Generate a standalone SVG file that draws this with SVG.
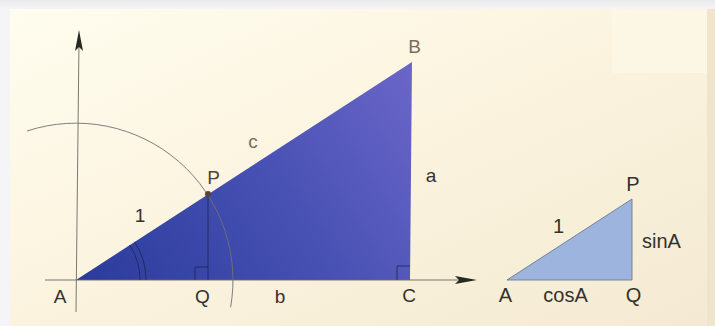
<svg xmlns="http://www.w3.org/2000/svg" width="715" height="326" viewBox="0 0 715 326">
<defs>
<linearGradient id="page" x1="0" y1="0" x2="1" y2="1">
<stop offset="0" stop-color="#fffdef"/>
<stop offset="0.5" stop-color="#fbf3de"/>
<stop offset="1" stop-color="#f4ead3"/>
</linearGradient>
<linearGradient id="top" x1="0" y1="0" x2="0" y2="1">
<stop offset="0" stop-color="#e9e9ec"/>
<stop offset="1" stop-color="#f5f5f7"/>
</linearGradient>
<linearGradient id="blue" gradientUnits="userSpaceOnUse" x1="90" y1="285" x2="420" y2="70">
<stop offset="0" stop-color="#2c3c9c"/>
<stop offset="0.5" stop-color="#4550b2"/>
<stop offset="1" stop-color="#6c66c9"/>
</linearGradient>
<style>
.lbl{font-family:"Liberation Sans",Arial,sans-serif;font-size:19px;fill:#35312c;text-anchor:middle}
.sm{font-size:20px}
.brown{fill:#7d6c58}
.axis{stroke:#6a6a66;stroke-width:0.9;fill:none}
.thin{stroke:#1f2550;stroke-width:0.8;fill:none}
.arc{stroke:#707070;stroke-width:0.9;fill:none}
.head{fill:#262b22}
</style>
</defs>
<rect width="715" height="326" fill="#f5f5f7"/>
<rect width="715" height="9" fill="url(#top)"/>
<rect x="10" y="9" width="705" height="317" fill="url(#page)"/>
<rect x="612" y="9" width="95" height="64" fill="#fdf7e6" opacity="0.8"/>
<rect x="707" y="9" width="8" height="317" fill="#efe5cc"/>

<g id="triangle-ABC">
<polygon points="76,280 412,62 410,280" fill="url(#blue)"/>
</g>
<g id="small-triangle-APQ">
<polygon points="507,280 632,199 632,280" fill="#9db5de" stroke="#6c7a92" stroke-width="0.9"/>
</g>

<g id="connectors">
<line class="axis" x1="45" y1="280" x2="466" y2="280"/>
<path class="head" d="M477,280 L455,276 L459,280 L455,284 Z"/>
<line class="axis" x1="79" y1="40" x2="76" y2="312"/>
<path class="head" d="M79,30 L75,51 L79,47 L83,51 Z"/>
<path class="arc" d="M27,131 A157,157 0 0 1 230.6,307.3"/>
<line class="thin" x1="208" y1="194" x2="208" y2="280"/>
<path class="thin" d="M195,280 V267 H208"/>
<path class="thin" d="M397,280 V266 H410"/>
<path class="thin" d="M129.7,245.1 A64,64 0 0 1 140,280"/>
<path class="thin" d="M134.7,241.9 A70,70 0 0 1 146,280"/>
</g>

<g id="point-P">
<circle cx="208" cy="194" r="3" fill="#5a4630"/>
</g>

<g id="labels">
<text class="lbl brown" x="414.5" y="53">B</text>
<text class="lbl brown" x="253" y="148">c</text>
<text class="lbl" x="213.5" y="184" style="fill:#4e4538">P</text>
<text class="lbl" x="431" y="182">a</text>
<text class="lbl" x="140" y="222">1</text>
<text class="lbl" x="60" y="303">A</text>
<text class="lbl" x="202.5" y="303">Q</text>
<text class="lbl" x="280" y="303">b</text>
<text class="lbl" x="409" y="302">C</text>
<text class="lbl sm" x="633" y="191">P</text>
<text class="lbl sm" x="558.5" y="233">1</text>
<text class="lbl sm" x="661.5" y="248">sinA</text>
<text class="lbl sm" x="505.5" y="302">A</text>
<text class="lbl sm" x="565.5" y="302">cosA</text>
<text class="lbl sm" x="633.5" y="302">Q</text>
</g>
</svg>
